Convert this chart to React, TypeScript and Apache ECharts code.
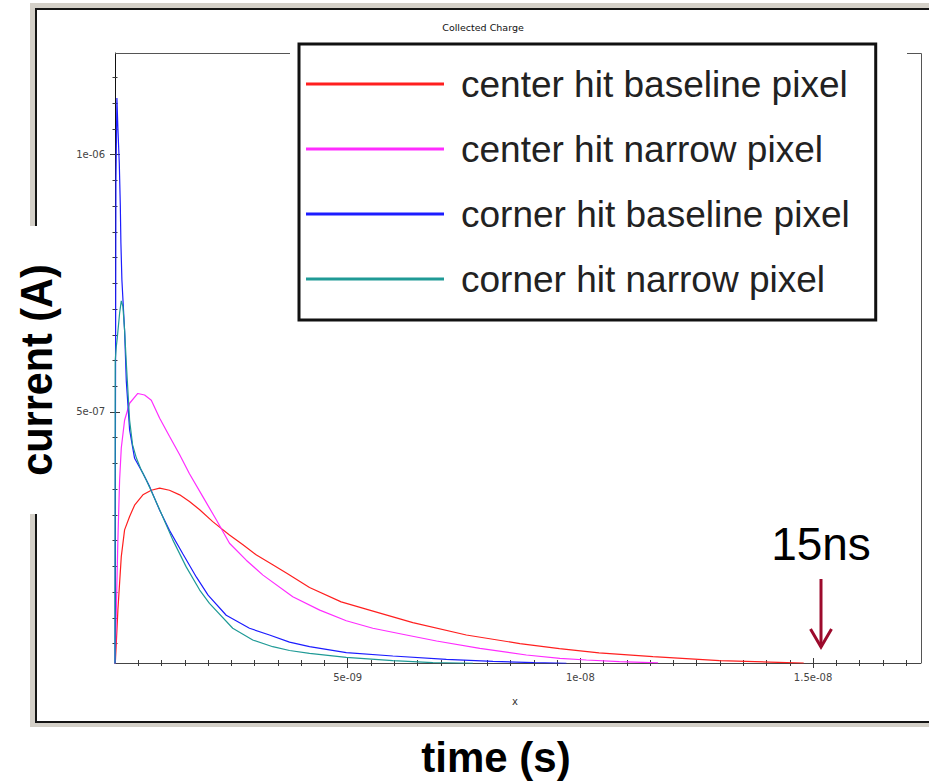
import React, { useEffect, useRef } from 'react';
import * as echarts from 'echarts';

// units used in the arrays below
const NS = 1e-9; // time in ns
const UA = 1e-7; // current in 1e-7 A

const seriesNames = [
  'center hit baseline pixel',
  'center hit narrow pixel',
  'corner hit baseline pixel',
  'corner hit narrow pixel',
];
const seriesColors = ['#ff1f1f', '#ff2cff', '#1c1cff', '#1f9a96'];

// center hit baseline pixel (red)
const centerBaselineT = [0, 0.028, 0.062, 0.135, 0.206, 0.314, 0.421, 0.6, 0.78, 0.96, 1.17, 1.39, 1.6, 1.82, 2.1, 2.46, 2.75, 3.04, 3.39, 3.7, 4.18, 4.86, 5.47, 6.4, 7.55, 8.7, 9.55, 10.4, 11.56, 12.99, 14.07, 14.8];
const centerBaselineI = [0, 0.505, 1.15, 2.19, 2.71, 2.97, 3.19, 3.39, 3.48, 3.52, 3.48, 3.39, 3.26, 3.1, 2.87, 2.61, 2.42, 2.22, 2.03, 1.86, 1.59, 1.31, 1.15, 0.906, 0.667, 0.5, 0.4, 0.32, 0.245, 0.17, 0.14, 0.12];

// center hit narrow pixel (magenta)
const centerNarrowT = [0, 0.028, 0.062, 0.099, 0.135, 0.206, 0.314, 0.49, 0.636, 0.78, 0.96, 1.17, 1.39, 1.6, 1.89, 2.18, 2.46, 2.82, 3.18, 3.82, 4.4, 4.97, 5.54, 6.26, 6.91, 7.84, 8.84, 9.56, 10.13, 10.84, 11.67];
const centerNarrowI = [0, 1.15, 2.51, 3.68, 4.3, 4.84, 5.17, 5.36, 5.33, 5.23, 4.88, 4.53, 4.17, 3.8, 3.35, 2.9, 2.45, 2.12, 1.83, 1.41, 1.15, 0.944, 0.797, 0.667, 0.55, 0.408, 0.278, 0.214, 0.181, 0.148, 0.125];

// corner hit baseline pixel (blue)
const cornerBaselineT = [0, 0.01, 0.02, 0.041, 0.062, 0.092, 0.114, 0.127, 0.148, 0.206, 0.243, 0.314, 0.421, 0.6, 0.744, 0.96, 1.17, 1.46, 1.75, 2.0, 2.39, 2.89, 3.32, 3.75, 4.18, 4.97, 5.97, 7.12, 8.12, 9.0, 9.7];
const cornerBaselineI = [0, 5.0, 9.5, 11.1, 10.52, 9.84, 9.02, 8.28, 7.57, 6.59, 5.6, 4.65, 4.1, 3.81, 3.55, 3.09, 2.7, 2.24, 1.79, 1.44, 1.05, 0.797, 0.667, 0.527, 0.439, 0.323, 0.258, 0.194, 0.155, 0.13, 0.117];

// corner hit narrow pixel (teal)
const cornerNarrowT = [0, 0.005, 0.028, 0.049, 0.099, 0.135, 0.17, 0.206, 0.243, 0.314, 0.378, 0.458, 0.565, 0.673, 0.96, 1.244, 1.53, 1.82, 2.03, 2.53, 2.96, 3.39, 3.75, 4.18, 4.97, 5.97, 6.83, 7.69];
const cornerNarrowI = [0, 6.0, 6.27, 6.44, 6.92, 7.16, 7.05, 6.59, 5.95, 4.84, 4.36, 4.11, 3.87, 3.68, 3.1, 2.51, 1.99, 1.54, 1.28, 0.797, 0.569, 0.439, 0.365, 0.311, 0.233, 0.167, 0.128, 0.117];

// axes
const X_MIN = 0;
const X_MAX = 17.32 * NS;
const Y_MIN = 1.224e-8;
const Y_MAX = 1.1976e-6;
const xTickMajor = [5, 10, 15]; // ns
const xTickLabels = ['5e-09', '1e-08', '1.5e-08'];
const xMinorStep = 0.5; // ns
const yTickMajor = [5, 10]; // 1e-7 A
const yTickLabels = ['5e-07', '1e-06'];
const yMinorStep = 0.5; // 1e-7 A

const chartTitle = 'Collected Charge';
const xAxisName = 'x';
const xTitle = 'time (s)';
const yTitle = 'current (A)';
const noteText = '15ns';

function zip(t: number[], v: number[]) {
  return t.map((x, i) => [x * NS, v[i] * UA]);
}

export default function App() {
  const ref = useRef<HTMLDivElement>(null);

  useEffect(() => {
    if (!ref.current) return;
    const chart = echarts.init(ref.current, null, { renderer: 'svg' });

    const xMajorVals = xTickMajor.map((v) => v * NS);
    const xMinorVals: number[] = [];
    for (let k = 1; k * xMinorStep * NS <= X_MAX + 1e-15; k++) xMinorVals.push(k * xMinorStep * NS);
    const yMajorVals = yTickMajor.map((v) => v * UA);
    const yMinorVals: number[] = [];
    for (let k = 1; k * yMinorStep * UA <= Y_MAX; k++) {
      const v = k * yMinorStep * UA;
      if (v >= Y_MIN) yMinorVals.push(v);
    }

    const tickColor = '#3a3a3a';
    const xLabelFmt = (v: number) => {
      const i = xMajorVals.findIndex((m) => Math.abs(m - v) < 1e-13);
      return i >= 0 ? xTickLabels[i] : '';
    };
    const yLabelFmt = (v: number) => {
      const i = yMajorVals.findIndex((m) => Math.abs(m - v) < 1e-11);
      return i >= 0 ? yTickLabels[i] : '';
    };

    const mkX = (vals: number[], len: number, inside: boolean, main: boolean) => ({
      type: 'value',
      min: X_MIN,
      max: X_MAX,
      position: 'bottom',
      offset: 0,
      axisLine: { show: main, lineStyle: { color: '#444', width: 1 } },
      splitLine: { show: false },
      axisTick: { show: true, inside, length: len, customValues: vals, lineStyle: { color: tickColor, width: 1 } },
      axisLabel: main
        ? { show: true, customValues: xMajorVals, formatter: xLabelFmt, margin: 9, fontSize: 10, fontFamily: 'DejaVu Sans', color: '#444' }
        : { show: false },
    });
    const mkY = (vals: number[], len: number, inside: boolean, main: boolean) => ({
      type: 'value',
      min: Y_MIN,
      max: Y_MAX,
      position: 'left',
      offset: 0,
      axisLine: { show: main, lineStyle: { color: '#111', width: 1 } },
      splitLine: { show: false },
      axisTick: { show: true, inside, length: len, customValues: vals, lineStyle: { color: tickColor, width: 1 } },
      axisLabel: main
        ? { show: true, customValues: yMajorVals, formatter: yLabelFmt, margin: 10, fontSize: 10, fontFamily: 'DejaVu Sans', color: '#444' }
        : { show: false },
    });

    const seriesData = [
      zip(centerBaselineT, centerBaselineI),
      zip(centerNarrowT, centerNarrowI),
      zip(cornerBaselineT, cornerBaselineI),
      zip(cornerNarrowT, cornerNarrowI),
    ];

    const option: any = {
      animation: false,
      grid: { left: 115, top: 53, width: 806, height: 610, containLabel: false },
      xAxis: [
        mkX(xMajorVals, 5, false, true),
        mkX(xMajorVals, 5, true, false),
        mkX(xMinorVals, 3, false, false),
        mkX(xMinorVals, 3, true, false),
      ],
      yAxis: [
        mkY(yMajorVals, 5, false, true),
        mkY(yMajorVals, 5, true, false),
        mkY(yMinorVals, 2.5, false, false),
        mkY(yMinorVals, 2.5, true, false),
      ],
      legend: {
        data: seriesNames,
        orient: 'vertical',
        left: 299,
        top: 44,
        backgroundColor: '#fff',
        borderColor: '#111',
        borderWidth: 3,
        padding: [20, 26, 21, 7],
        itemGap: 25,
        itemWidth: 138,
        itemHeight: 3,
        icon: 'rect',
        selectedMode: false,
        textStyle: {
          fontSize: 37,
          fontFamily: 'Liberation Sans',
          color: '#222',
          lineHeight: 40,
          padding: [0, 0, 0, 12],
        },
      },
      series: seriesNames.map((name, i) => ({
        name,
        type: 'line',
        xAxisIndex: 0,
        yAxisIndex: 0,
        data: seriesData[i],
        showSymbol: false,
        symbol: 'none',
        smooth: false,
        clip: true,
        color: seriesColors[i],
        lineStyle: { color: seriesColors[i], width: 1.2 },
        z: 3,
      })),
      graphic: [
        { type: 'rect', z: -30, silent: true, shape: { x: 30, y: 3, width: 910, height: 724 }, style: { fill: '#d4d0c8' } },
        { type: 'rect', z: -29, silent: true, shape: { x: 36, y: 9, width: 905, height: 713 }, style: { fill: '#fff', stroke: '#151515', lineWidth: 2 } },
        { type: 'rect', z: -28, silent: true, shape: { x: 6, y: 226, width: 52, height: 288 }, style: { fill: '#fff' } },
        { type: 'line', z: 1, silent: true, shape: { x1: 115, y1: 53.5, x2: 290, y2: 53.5 }, style: { stroke: '#555', lineWidth: 1 } },
        { type: 'line', z: 1, silent: true, shape: { x1: 907, y1: 53.5, x2: 921.5, y2: 53.5 }, style: { stroke: '#555', lineWidth: 1 } },
        { type: 'line', z: 1, silent: true, shape: { x1: 921.5, y1: 53.5, x2: 921.5, y2: 663 }, style: { stroke: '#555', lineWidth: 1 } },
        { type: 'text', z: 5, x: 483, y: 27, style: { text: chartTitle, fontSize: 9.5, fontFamily: 'DejaVu Sans', fill: '#111', align: 'center', verticalAlign: 'middle' } },
        { type: 'text', z: 5, x: 515, y: 701, style: { text: xAxisName, fontSize: 10, fontFamily: 'DejaVu Sans', fill: '#333', align: 'center', verticalAlign: 'middle' } },
        { type: 'text', z: 5, x: 36, y: 370, rotation: Math.PI / 2, scaleX: 0.92, style: { text: yTitle, fontSize: 45, fontWeight: 'bold', fontFamily: 'Liberation Sans', fill: '#000', align: 'center', verticalAlign: 'middle' } },
        { type: 'text', z: 5, x: 496, y: 757, style: { text: xTitle, fontSize: 42, fontWeight: 'bold', fontFamily: 'Liberation Sans', fill: '#000', align: 'center', verticalAlign: 'middle' } },
        { type: 'text', z: 5, x: 821, y: 544, style: { text: noteText, fontSize: 46, fontFamily: 'Liberation Sans', fill: '#000', align: 'center', verticalAlign: 'middle' } },
        { type: 'line', z: 6, silent: true, shape: { x1: 821, y1: 579, x2: 821, y2: 647 }, style: { stroke: '#9c0a2c', lineWidth: 3 } },
        { type: 'polyline', z: 6, silent: true, shape: { points: [[810.5, 629], [821, 647], [831.5, 629]] }, style: { stroke: '#9c0a2c', lineWidth: 3, fill: 'none' } },
      ],
    };

    chart.setOption(option);
    return () => chart.dispose();
  }, []);

  return <div ref={ref} style={{ position: 'fixed', left: 0, top: 0, width: 929, height: 781, background: '#fff' }} />;
}
